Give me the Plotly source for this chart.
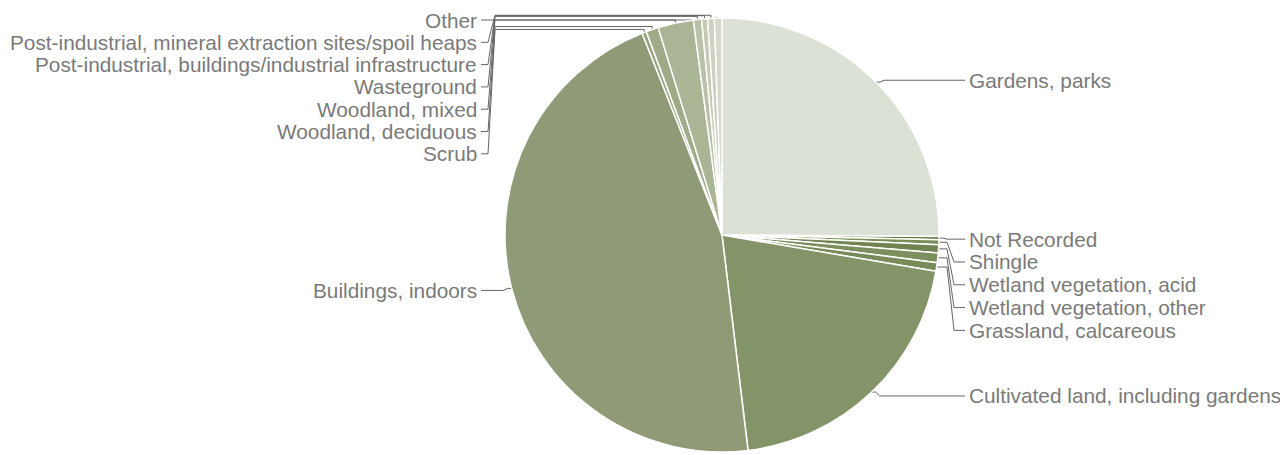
import math
import plotly.graph_objects as go

# ---- data (percent of records by habitat) ----
labels = [
    "Gardens, parks",
    "Not Recorded",
    "Shingle",
    "Wetland vegetation, acid",
    "Wetland vegetation, other",
    "Grassland, calcareous",
    "Cultivated land, including gardens",
    "Buildings, indoors",
    "Scrub",
    "Woodland, deciduous",
    "Woodland, mixed",
    "Wasteground",
    "Post-industrial, buildings/industrial infrastructure",
    "Post-industrial, mineral extraction sites/spoil heaps",
    "Other",
]
values = [25.1, 0.24, 0.37, 0.6, 0.72, 0.64, 20.4, 45.9, 0.33, 0.92, 2.64, 0.61, 0.44, 0.5, 0.56]
colors = [
    "#dce1d5", "#5b7434", "#7a8c5a", "#6f8450", "#7d8f5f", "#788a58",
    "#849469", "#8e9b76", "#97a381", "#9eaa88", "#aab595", "#b9c2a8",
    "#c4cbb5", "#ccd2bf", "#d4d9ca",
]

# ---- layout geometry (window pixels; page body has an 8px margin) ----
WIN_W, WIN_H = 1288, 455
OX, OY = 8, 8
W, H = WIN_W - OX, WIN_H - OY
CX, CY, R = 722, 235, 217
LINE_COLOR = "#666666"
TEXT_COLOR = "#7a7a7a"
FONT = "Liberation Sans, Arial, sans-serif"
FSIZE = 20.8
SPACING = 22.3
TOP_MIN = 20

fig = go.Figure()
fig.add_trace(go.Pie(
    labels=labels, values=values, sort=False, direction="clockwise", rotation=0,
    textinfo="none", hoverinfo="label+percent",
    marker=dict(colors=colors, line=dict(color="white", width=1.5)),
    domain=dict(x=[(CX - R - OX) / W, (CX + R - OX) / W],
                y=[(WIN_H - CY - R) / H, (WIN_H - CY + R) / H]),
    showlegend=False,
))

# ---- label placement computed from the data ----
total = sum(values)
items = []
cum = 0.0
for lab, v in zip(labels, values):
    a0 = cum / total * 360
    cum += v
    a1 = cum / total * 360
    th = math.radians((a0 + a1) / 2)
    ax = CX + R * math.sin(th)
    ay = CY - R * math.cos(th)
    ny = CY - (R + 4) * math.cos(th) + 1
    items.append(dict(label=lab, th=th, ax=ax, ay=ay, ny=ny,
                      side="right" if math.sin(th) >= 0 else "left"))

annotations = []
for side in ("right", "left"):
    grp = sorted([it for it in items if it["side"] == side], key=lambda d: d["ny"])
    prev = -1e9
    for it in grp:
        sp = SPACING if side == "left" else 22.8
        y = max(it["ny"], prev + sp, TOP_MIN)
        it["ly"] = y
        prev = y

for it in items:
    ax, ay, ly = it["ax"], it["ay"], it["ly"]
    if it["side"] == "right":
        tx = 967
        if abs(ly - ay) < 15:
            xs = [ax, ax + 4, ax + 8, tx - 2]
            ys = [ay, ay, ly, ly]
        else:
            xs = [ax, CX + R + 8, CX + R + 15, tx - 2]
            ys = [ay, ay, ly, ly]
        annotations.append(dict(x=tx, y=ly, text=it["label"], xanchor="left", yanchor="middle",
                                showarrow=False, xref="x", yref="y",
                                font=dict(family=FONT, size=FSIZE, color=TEXT_COLOR)))
    else:
        tx = 479
        if abs(ly - ay) < 15:
            xs = [ax, ax - 4, ax - 8, tx + 2]
            ys = [ay, ay, ly, ly]
        else:
            yh = min(ay - 3, ly)
            xs = [ax, ax, 495, 488, tx + 2]
            ys = [ay, yh, yh, ly, ly]
        annotations.append(dict(x=tx, y=ly, text=it["label"], xanchor="right", yanchor="middle",
                                showarrow=False, xref="x", yref="y",
                                font=dict(family=FONT, size=FSIZE, color=TEXT_COLOR)))
    fig.add_trace(go.Scatter(x=xs, y=ys, mode="lines", line=dict(color=LINE_COLOR, width=1),
                             hoverinfo="skip", showlegend=False))

fig.update_layout(
    width=W, height=H, margin=dict(l=0, r=0, t=0, b=0),
    paper_bgcolor="white", plot_bgcolor="rgba(0,0,0,0)",
    xaxis=dict(range=[OX, WIN_W], visible=False, fixedrange=True, domain=[0, 1]),
    yaxis=dict(range=[WIN_H, OY], visible=False, fixedrange=True, domain=[0, 1]),
    annotations=annotations,
)

fig.write_html("out.html")
